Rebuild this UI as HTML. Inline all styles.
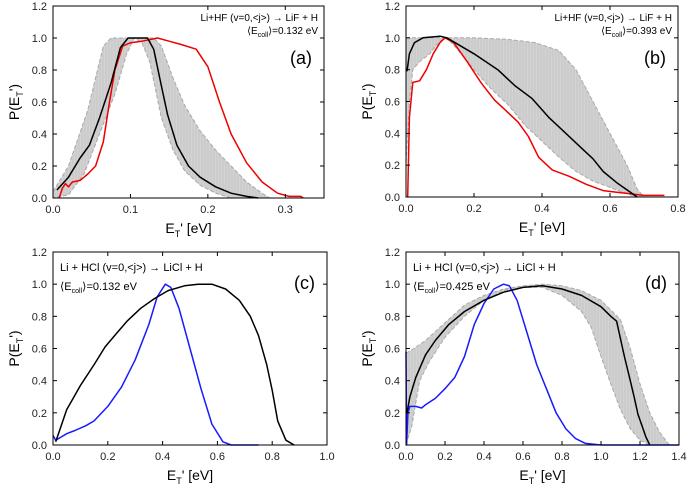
<!DOCTYPE html>
<html><head><meta charset="utf-8">
<style>
body{margin:0;background:#fff;}
svg{display:block;font-family:"Liberation Sans",sans-serif;}
</style></head>
<body>
<svg id="fig" width="688" height="487" viewBox="0 0 688 487" xmlns="http://www.w3.org/2000/svg">
<defs>
<pattern id="hatch" width="3" height="4" patternUnits="userSpaceOnUse">
<rect width="3" height="4" fill="#d2d2d2"/><line x1="1" y1="0" x2="1" y2="4" stroke="#bdbdbd" stroke-width="0.6"/>
</pattern>
</defs>
</svg>
<script>
// Panel (a)
const aBlack=[[0.005,0.05],[0.02,0.13],[0.035,0.25],[0.047,0.33],[0.06,0.5],[0.075,0.72],[0.087,0.94],[0.097,1.0],[0.11,1.0],[0.122,1.0],[0.13,0.93],[0.14,0.7],[0.148,0.52],[0.16,0.33],[0.175,0.2],[0.19,0.13],[0.21,0.07],[0.23,0.03],[0.25,0.01],[0.265,0]];
const aRed=[[0.008,0],[0.012,0.06],[0.016,0.09],[0.02,0.07],[0.025,0.1],[0.035,0.11],[0.045,0.15],[0.055,0.2],[0.065,0.35],[0.073,0.6],[0.08,0.8],[0.09,0.95],[0.1,0.97],[0.115,0.98],[0.135,1.0],[0.15,0.98],[0.165,0.96],[0.185,0.93],[0.2,0.82],[0.215,0.6],[0.23,0.4],[0.25,0.22],[0.27,0.1],[0.29,0.03],[0.305,0.01],[0.32,0.01],[0.323,0]];
const aUpper=[[0,0.04],[0.02,0.2],[0.045,0.55],[0.065,0.95],[0.075,1.0],[0.1,1.0],[0.13,1.0],[0.14,0.95],[0.155,0.75],[0.17,0.58],[0.19,0.42],[0.21,0.3],[0.23,0.2],[0.25,0.1],[0.27,0.03],[0.28,0]];
const aLower=[[0,0],[0.02,0.02],[0.04,0.15],[0.06,0.4],[0.08,0.65],[0.095,0.9],[0.105,1.0],[0.115,0.97],[0.125,0.85],[0.14,0.5],[0.155,0.3],[0.17,0.17],[0.19,0.08],[0.21,0.03],[0.23,0]];
const aXTicks=["0.0","0.1","0.2","0.3"];
// Panel (b)
const bBlack=[[0.003,0.79],[0.01,0.9],[0.025,0.97],[0.05,1.0],[0.1,1.01],[0.12,1.0],[0.2,0.9],[0.27,0.8],[0.32,0.7],[0.37,0.62],[0.42,0.5],[0.47,0.4],[0.52,0.3],[0.55,0.24],[0.58,0.16],[0.62,0.09],[0.66,0.03],[0.68,0]];
const bRed=[[0.005,0],[0.01,0.5],[0.02,0.72],[0.04,0.73],[0.06,0.8],[0.08,0.9],[0.1,0.97],[0.115,1.0],[0.14,0.97],[0.18,0.85],[0.22,0.72],[0.26,0.61],[0.3,0.53],[0.33,0.47],[0.36,0.38],[0.39,0.25],[0.43,0.17],[0.48,0.13],[0.53,0.08],[0.58,0.04],[0.62,0.03],[0.66,0.02],[0.7,0.01],[0.76,0.01]];
const bUpper=[[0,1.0],[0.05,1.0],[0.1,1.0],[0.2,1.0],[0.3,0.99],[0.38,0.97],[0.45,0.92],[0.5,0.8],[0.55,0.6],[0.6,0.4],[0.65,0.2],[0.68,0.05],[0.7,0]];
const bLower=[[0,0.2],[0.01,0.6],[0.02,0.8],[0.04,0.85],[0.07,0.9],[0.1,0.98],[0.12,1.0],[0.15,0.93],[0.2,0.8],[0.25,0.68],[0.3,0.58],[0.35,0.45],[0.4,0.35],[0.45,0.25],[0.5,0.16],[0.55,0.1],[0.6,0.06],[0.65,0.02],[0.68,0]];
const bXTicks=["0.0","0.2","0.4","0.6","0.8"];
// Panel (c)
const cBlack=[[0.01,0.02],[0.03,0.12],[0.05,0.22],[0.07,0.28],[0.1,0.37],[0.15,0.5],[0.19,0.61],[0.23,0.69],[0.27,0.77],[0.32,0.85],[0.37,0.91],[0.42,0.96],[0.48,0.99],[0.53,1.0],[0.58,1.0],[0.63,0.97],[0.68,0.9],[0.72,0.8],[0.75,0.68],[0.78,0.5],[0.8,0.34],[0.82,0.15],[0.85,0.03],[0.88,0]];
const cBlue=[[0,0.06],[0.01,0.03],[0.03,0.05],[0.05,0.07],[0.08,0.09],[0.12,0.12],[0.15,0.15],[0.2,0.24],[0.25,0.36],[0.3,0.53],[0.35,0.75],[0.38,0.92],[0.41,1.0],[0.43,0.98],[0.46,0.85],[0.5,0.6],[0.54,0.35],[0.58,0.13],[0.62,0.02],[0.65,0],[0.75,0]];
const cXTicks=["0.0","0.2","0.4","0.6","0.8","1.0"];
// Panel (d)
const dBlack=[[0.005,0.2],[0.02,0.3],[0.05,0.42],[0.1,0.56],[0.15,0.65],[0.22,0.75],[0.3,0.83],[0.4,0.9],[0.5,0.95],[0.6,0.98],[0.7,0.99],[0.8,0.97],[0.9,0.93],[1.0,0.86],[1.05,0.8],[1.08,0.77],[1.12,0.55],[1.15,0.4],[1.17,0.3],[1.19,0.19],[1.21,0.12],[1.23,0.05],[1.25,0]];
const dBlue=[[0,0.58],[0.003,0],[0.01,0.2],[0.02,0.24],[0.05,0.24],[0.08,0.23],[0.1,0.25],[0.15,0.29],[0.2,0.35],[0.25,0.42],[0.3,0.55],[0.35,0.75],[0.4,0.88],[0.45,0.97],[0.5,1.0],[0.53,0.99],[0.57,0.9],[0.62,0.7],[0.67,0.5],[0.72,0.35],[0.77,0.2],[0.82,0.1],[0.87,0.04],[0.92,0.01],[1.0,0],[1.4,0]];
const dUpper=[[0,0.57],[0.04,0.6],[0.1,0.65],[0.2,0.76],[0.3,0.87],[0.4,0.93],[0.5,0.97],[0.6,0.99],[0.7,1.0],[0.8,0.99],[0.9,0.96],[1.0,0.9],[1.1,0.78],[1.15,0.6],[1.2,0.38],[1.25,0.2],[1.3,0.08],[1.35,0]];
const dLower=[[0,0],[0.03,0.12],[0.07,0.4],[0.12,0.52],[0.2,0.67],[0.3,0.8],[0.4,0.9],[0.5,0.96],[0.6,0.98],[0.7,0.98],[0.8,0.93],[0.9,0.83],[0.95,0.73],[1.0,0.55],[1.05,0.38],[1.1,0.22],[1.15,0.1],[1.2,0.03],[1.25,0]];
const dXTicks=["0.0","0.2","0.4","0.6","0.8","1.0","1.2","1.4"];
const yTicks=["0.0","0.2","0.4","0.6","0.8","1.0","1.2"];

const NS="http://www.w3.org/2000/svg";
const svg=document.getElementById('fig');
function mk(tag,attrs,parent){const e=document.createElementNS(NS,tag);for(const k in attrs)e.setAttribute(k,attrs[k]);(parent||svg).appendChild(e);return e;}

function panel(cfg){
  const g=mk('g',{});
  
  
  const xmax=cfg.xmax;
  const X=v=>cfg.L+(v/xmax)*(cfg.R-cfg.L);
  const Y=v=>cfg.B-(v/1.2)*(cfg.B-cfg.T);
  const pts=a=>a.map(p=>X(p[0]).toFixed(1)+','+Y(p[1]).toFixed(1)).join(' ');
  if(cfg.up){
    const band=mk('polygon',{points:pts(cfg.up.concat(cfg.lo.slice().reverse())),fill:'url(#hatch)',stroke:'#aaa','stroke-width':1,'stroke-dasharray':'4,2'},g);
    
    
  }
  const s2=mk('polyline',{points:pts(cfg.s2),fill:'none',stroke:cfg.c2,'stroke-width':1.5,'stroke-linejoin':'round'},g);
  
  
  const s1=mk('polyline',{points:pts(cfg.s1),fill:'none',stroke:'#000','stroke-width':1.5,'stroke-linejoin':'round'},g);
  
  
  const box=mk('rect',{x:cfg.L,y:cfg.T,width:cfg.R-cfg.L,height:cfg.B-cfg.T,fill:'none',stroke:'#000','stroke-width':1},g);
  
  
  cfg.xt.forEach(t=>{const x=X(parseFloat(t));
    mk('line',{x1:x,x2:x,y1:cfg.B,y2:cfg.B-4,stroke:'#000'},g);
    mk('line',{x1:x,x2:x,y1:cfg.T,y2:cfg.T+4,stroke:'#000'},g);
    const tl=mk('text',{x:x,y:cfg.B+15,'font-size':11,'text-anchor':'middle',fill:'#222'},g);tl.textContent=t;
    
    
  });
  yTicks.forEach(t=>{const y=Y(parseFloat(t));
    mk('line',{x1:cfg.L,x2:cfg.L+4,y1:y,y2:y,stroke:'#000'},g);
    mk('line',{x1:cfg.R,x2:cfg.R-4,y1:y,y2:y,stroke:'#000'},g);
    const tl=mk('text',{x:cfg.L-6,y:y+4,'font-size':11,'text-anchor':'end',fill:'#222'},g);tl.textContent=t;
    
    
  });
  const xl=mk('text',{x:(cfg.L+cfg.R)/2,y:cfg.B+35,'font-size':14,'text-anchor':'middle'},g);
  xl.innerHTML='E<tspan font-size="9" dy="4">T</tspan><tspan dy="-4">\' [eV]</tspan>';
  
  
  const yc=(cfg.T+cfg.B)/2;
  const yl=mk('text',{x:cfg.L-34,y:yc,'font-size':14,'text-anchor':'middle',transform:'rotate(-90 '+(cfg.L-34)+' '+yc+')'},g);
  yl.innerHTML='P(E<tspan font-size="9" dy="4">T</tspan><tspan dy="-4">\')</tspan>';
  
  
  const anchor=cfg.right?'end':'start';const ax=cfg.right?cfg.R-6:cfg.L+7;
  const t1=mk('text',{x:ax,y:cfg.T+(cfg.right?15:19),'font-size':cfg.right?10:11,'text-anchor':anchor},g);t1.textContent=cfg.rx;
  
  
  const t2=mk('text',{x:ax,y:cfg.T+(cfg.right?28:38),'font-size':cfg.right?10:11,'text-anchor':anchor},g);
  t2.innerHTML='⟨E<tspan font-size="7" dy="3">coll</tspan><tspan dy="-3">⟩='+cfg.e+' eV</tspan>';
  
  
  const pl=mk('text',{x:cfg.R-12,y:cfg.T+(cfg.right?58:37),'font-size':18,'text-anchor':'end'},g);pl.textContent='('+cfg.id+')';
  
  
}
panel({id:'a',L:53,R:324,T:6,B:198,xmax:0.35,xt:aXTicks,s1:aBlack,s2:aRed,c2:'#e00',up:aUpper,lo:aLower,right:true,rx:'Li+HF (v=0,<j>) → LiF + H',e:'0.132'});
panel({id:'b',L:406,R:678,T:6,B:197,xmax:0.8,xt:bXTicks,s1:bBlack,s2:bRed,c2:'#e00',up:bUpper,lo:bLower,right:true,rx:'Li+HF (v=0,<j>) → LiF + H',e:'0.393'});
panel({id:'c',L:53,R:327,T:252,B:445,xmax:1.0,xt:cXTicks,s1:cBlack,s2:cBlue,c2:'#1a1aff',right:false,rx:'Li + HCl (v=0,<j>) →  LiCl + H',e:'0.132'});
panel({id:'d',L:406,R:679,T:252,B:445,xmax:1.4,xt:dXTicks,s1:dBlack,s2:dBlue,c2:'#1a1aff',up:dUpper,lo:dLower,right:false,rx:'Li + HCl (v=0,<j>) →  LiCl + H',e:'0.425'});
</script>
</body></html>
